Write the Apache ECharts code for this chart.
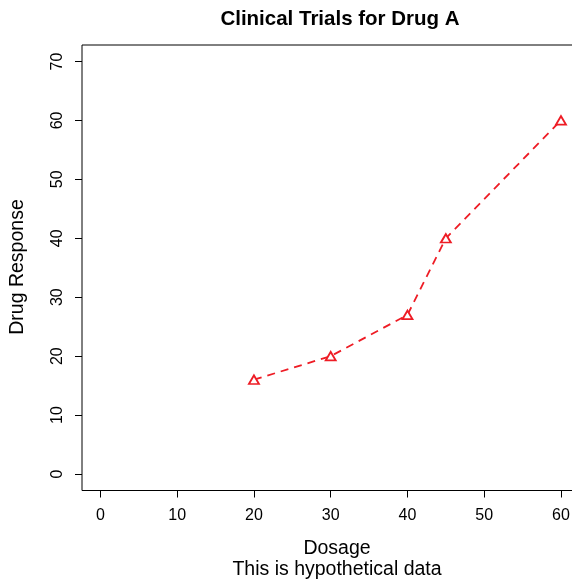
<!DOCTYPE html>
<html><head><meta charset="utf-8">
<script src="https://cdn.jsdelivr.net/npm/echarts@6/dist/echarts.min.js"></script>
<style>html,body{margin:0;padding:0;background:#fff;overflow:hidden;width:572px;height:584px}#c{width:580px;height:584px}</style>
</head><body><div id="c"></div>
<script>
const dosage = [20, 30, 40, 45, 60];
const response = [16, 20, 27, 40, 60];
const xTicks = [0, 10, 20, 30, 40, 50, 60];
const yTicks = [0, 10, 20, 30, 40, 50, 60, 70];
const titleText = 'Clinical Trials for Drug A';
const xName = 'Dosage';
const yName = 'Drug Response';
const subText = 'This is hypothetical data';

const font = '"Liberation Sans", Arial, sans-serif';
const chart = echarts.init(document.getElementById('c'));
function txt(s, x, y, size, bold, rot) {
  return {type: 'text', x: x, y: y, rotation: rot || 0,
    style: {text: s, fontFamily: font, fontSize: size, fontWeight: bold ? 'bold' : 'normal',
            fill: '#000', align: 'center', verticalAlign: 'middle'}};
}
chart.setOption({
  animation: false,
  backgroundColor: '#fff',
  graphic: [
    txt(titleText, 340, 19, 20.5, true),
    txt(xName, 337, 549, 19.5, false),
    txt(subText, 337, 570, 19.5, false),
    txt(yName, 18, 267, 19.5, false, Math.PI / 2)
  ],
  grid: {left: 82, top: 45, right: 0.6, bottom: 93.5, show: true,
         borderColor: '#000', borderWidth: 1, backgroundColor: 'transparent'},
  xAxis: {
    type: 'value', min: -2.4, max: 62.4,
    axisLine: {show: false, onZero: false},
    splitLine: {show: false},
    axisTick: {show: true, inside: false, length: 7, customValues: xTicks,
               lineStyle: {color: '#000'}},
    axisLabel: {customValues: xTicks, margin: 17.5, fontFamily: font, fontSize: 16, color: '#000'}
  },
  yAxis: {
    type: 'value', min: -2.8, max: 72.8,
    axisLine: {show: false, onZero: false},
    splitLine: {show: false},
    axisTick: {show: true, inside: false, length: 7, customValues: yTicks,
               lineStyle: {color: '#000'}},
    axisLabel: {customValues: yTicks, rotate: 90, margin: 16.5, fontFamily: font, fontSize: 16, color: '#000'}
  },
  series: [{
    type: 'line',
    data: dosage.map((d, i) => [d, response[i]]),
    symbol: 'triangle', symbolSize: [10, 8.5], showSymbol: true,
    lineStyle: {color: '#ee1c25', width: 1.8, type: [8, 6]},
    itemStyle: {color: '#fff', borderColor: '#ee1c25', borderWidth: 1.8}
  }]
});
</script></body></html>
